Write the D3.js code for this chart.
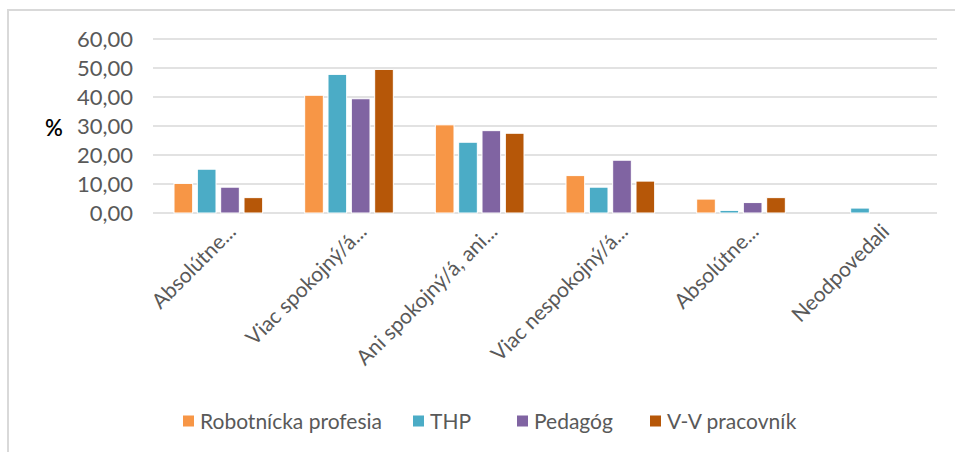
<!DOCTYPE html>
<html>
<head>
<meta charset="utf-8">
<script src="https://cdn.jsdelivr.net/npm/d3@7"></script>
<style>
  body { margin: 0; background: #fff; }
  svg { display: block; }
  text { font-family: Lato, "Open Sans", sans-serif; }
</style>
</head>
<body>
<svg id="main-svg" width="955" height="452"></svg>
<script>
// categories and series
const categories = ['Absolútne...', 'Viac spokojný/á...', 'Ani spokojný/á, ani...', 'Viac nespokojný/á...', 'Absolútne...', 'Neodpovedali'];
const seriesNames = ['Robotnícka profesia', 'THP', 'Pedagóg', 'V-V pracovník'];
const colors = ['#f79646', '#4bacc6', '#8064a2', '#b65708'];

const robotnicka = [10.2, 40.6, 30.4, 12.9, 4.8, 0];
const thp = [15.1, 47.8, 24.4, 8.9, 0.9, 1.7];
const pedagog = [8.9, 39.4, 28.4, 18.2, 3.6, 0];
const vv = [5.3, 49.5, 27.5, 11.0, 5.3, 0];
const values = [robotnicka, thp, pedagog, vv];

const yTicks = [0, 10, 20, 30, 40, 50, 60];

const svg = d3.select('#main-svg');

// chart border (only top and left show in the picture)
svg.append('rect')
    .attr('x', 8).attr('y', 10)
    .attr('width', 960).attr('height', 460)
    .attr('fill', 'none')
    .attr('stroke', '#d9d9d9')
    .attr('stroke-width', 2);

const plotLeft = 153, plotRight = 937, plotTop = 39, plotBottom = 213;

const x = d3.scaleBand().domain(d3.range(categories.length)).range([plotLeft, plotRight]);
const xInner = d3.scaleBand().domain(d3.range(seriesNames.length))
    .range([0, x.bandwidth()]).paddingInner(0.2).paddingOuter(0.9);
const y = d3.scaleLinear().domain([0, 60]).range([plotBottom, plotTop]);

// gridlines
svg.append('g').selectAll('line')
    .data(yTicks)
    .enter().append('line')
    .attr('x1', plotLeft).attr('x2', plotRight)
    .attr('y1', d => y(d)).attr('y2', d => y(d))
    .attr('stroke', '#d9d9d9')
    .attr('stroke-width', 1.5);

// y tick labels
svg.append('g').selectAll('text')
    .data(yTicks)
    .enter().append('text')
    .attr('x', 133)
    .attr('y', d => y(d))
    .attr('dy', '0.36em')
    .attr('text-anchor', 'end')
    .attr('fill', '#595959')
    .style('font-size', '22px')
    .text(d => d.toFixed(2).replace('.', ','));

// axis title
svg.append('text')
    .attr('x', 54).attr('y', 128)
    .attr('dy', '0.36em')
    .attr('text-anchor', 'middle')
    .attr('fill', '#000')
    .style('font-size', '22px')
    .style('font-weight', 600)
    .text('%');

// bars
const groups = svg.append('g').selectAll('g')
    .data(values)
    .enter().append('g')
    .attr('fill', (d, i) => colors[i]);

groups.each(function(series, si) {
    d3.select(this).selectAll('rect')
        .data(series)
        .enter().append('rect')
        .attr('x', (d, ci) => x(ci) + xInner(si))
        .attr('width', xInner.bandwidth())
        .attr('y', d => y(d))
        .attr('height', d => y(0) - y(d))
        .attr('stroke', '#fff')
        .attr('stroke-width', d => d > 0 ? 1 : 0);
});

// category labels, rotated
svg.append('g').selectAll('text')
    .data(categories)
    .enter().append('text')
    .attr('transform', (d, i) => `translate(${x(i) + x.bandwidth() / 2 + 19},233) rotate(-45)`)
    .attr('text-anchor', 'end')
    .attr('fill', '#595959')
    .style('font-size', '21px')
    .text(d => d);

// legend
const legendX = [183, 413, 517, 650];
const legend = svg.append('g').selectAll('g')
    .data(seriesNames)
    .enter().append('g')
    .attr('transform', (d, i) => `translate(${legendX[i]},421)`);

legend.append('rect')
    .attr('x', 0).attr('y', -5.5)
    .attr('width', 11).attr('height', 11)
    .attr('fill', (d, i) => colors[i]);

legend.append('text')
    .attr('x', 17)
    .attr('dy', '0.36em')
    .attr('fill', '#595959')
    .style('font-size', '21px')
    .text(d => d);
</script>
</body>
</html>
